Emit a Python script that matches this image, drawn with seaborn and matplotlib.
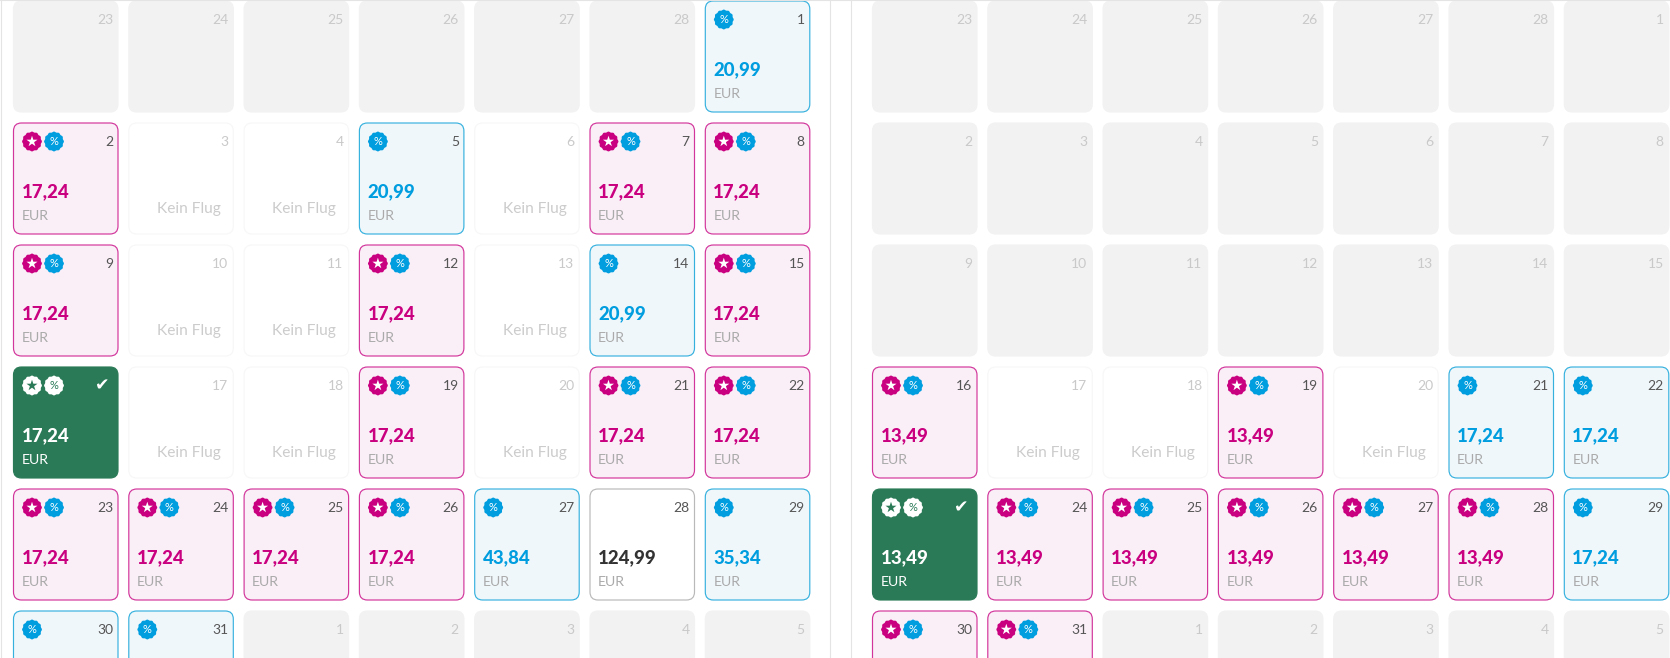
import matplotlib
matplotlib.use("Agg")
import matplotlib.pyplot as plt
import numpy as np
import pandas as pd
import seaborn as sns
from matplotlib.lines import Line2D
from matplotlib.patches import FancyBboxPatch
from matplotlib.path import Path

# o = outside month, n = kein flug, p = pink, b = blue, w = plain, s = selected
left_days = [23, 24, 25, 26, 27, 28, 1,
             2, 3, 4, 5, 6, 7, 8,
             9, 10, 11, 12, 13, 14, 15,
             16, 17, 18, 19, 20, 21, 22,
             23, 24, 25, 26, 27, 28, 29,
             30, 31, 1, 2, 3, 4, 5]
left_kinds = list("oooooob"
                  "pnnbnpp"
                  "pnnpnbp"
                  "snnpnpp"
                  "ppppbwb"
                  "bbooooo")
left_prices = [None, None, None, None, None, None, 20.99,
               17.24, None, None, 20.99, None, 17.24, 17.24,
               17.24, None, None, 17.24, None, 20.99, 17.24,
               17.24, None, None, 17.24, None, 17.24, 17.24,
               17.24, 17.24, 17.24, 17.24, 43.84, 124.99, 35.34,
               None, None, None, None, None, None, None]

right_days = [23, 24, 25, 26, 27, 28, 1,
              2, 3, 4, 5, 6, 7, 8,
              9, 10, 11, 12, 13, 14, 15,
              16, 17, 18, 19, 20, 21, 22,
              23, 24, 25, 26, 27, 28, 29,
              30, 31, 1, 2, 3, 4, 5]
right_kinds = list("ooooooo"
                   "ooooooo"
                   "ooooooo"
                   "pnnpnbb"
                   "spppppb"
                   "ppooooo")
right_prices = [None] * 21 + [13.49, None, None, 13.49, None, 17.24, 17.24,
                              13.49, 13.49, 13.49, 13.49, 13.49, 13.49, 17.24,
                              None, None, None, None, None, None, None]

W, H = 1670, 658
PITCH_X, PITCH_Y = 115.3, 122.0
CELL_W, CELL_H = 104.5, 111.0
MARGIN = 5

PINK = "#c9007f"
BLUE = "#009ddf"
GREEN = "#2a7a57"

fills = {"o": "#f2f2f2", "n": "#ffffff", "p": "#faeef7", "b": "#f0f7fb", "w": "#ffffff", "s": GREEN}
edges = {"o": "#f2f2f2", "n": "#f7f7f7", "p": "#d2359b", "b": "#36b1de", "w": "#b9b9b9", "s": GREEN}
price_cols = {"p": PINK, "b": BLUE, "w": "#333333", "s": "#ffffff"}
day_cols = {"o": "#c9c9c9", "n": "#c9c9c9", "p": "#555555", "b": "#555555", "w": "#555555"}

sns.set_theme(style="white")
plt.rcParams["font.family"] = ["Lato", "DejaVu Sans"]

# gezackter rand der badges
theta = np.linspace(0, 2 * np.pi, 97)
radius = 1 + 0.04 * np.cos(12 * theta)
scallop = Path(np.column_stack([radius * np.cos(theta), radius * np.sin(theta)]), closed=True)


def px(n):
    return n / PITCH_X


def py(n):
    return n / PITCH_Y


def draw_panel(ax, days, kinds, prices):
    badges = []
    stars = []
    for i, (day, kind, price) in enumerate(zip(days, kinds, prices)):
        row, col = divmod(i, 7)
        ax.add_patch(FancyBboxPatch((col, row), px(CELL_W), py(CELL_H),
                                    boxstyle=f"round,pad=0,rounding_size={px(8)}",
                                    mutation_aspect=PITCH_X / PITCH_Y,
                                    fc=fills[kind], ec=edges[kind], lw=0.85))
        if kind == "s":
            ax.text(col + px(89), row + py(18), "\u2714", color="white", fontsize=12.5,
                    ha="center", va="center", family="DejaVu Sans")
        else:
            ax.text(col + px(CELL_W - 5), row + py(19), str(day), color=day_cols[kind], fontsize=10,
                    ha="right", va="center")
        if kind == "n":
            ax.text(col + px(CELL_W - 12.5), row + py(86), "Kein Flug", color="#cccccc", fontsize=11.2,
                    ha="right", va="center")
        if price is not None:
            ax.text(col + px(8), row + py(69), f"{price:.2f}".replace(".", ","), color=price_cols[kind],
                    fontsize=13.4, fontweight=900, ha="left", va="center")
            ax.text(col + px(8), row + py(93), "EUR", color="white" if kind == "s" else "#aaaaaa",
                    fontsize=10.2, ha="left", va="center")
        # badges oben links
        pct_x = col + px(18.5)
        if kind in "ps":
            badges.append((col + px(18.5), row + py(18.5), "sel" if kind == "s" else "star"))
            stars.append((col + px(18.5), row + py(18.5), "sel" if kind == "s" else "star"))
            pct_x = col + px(40.5)
        if kind in "pbs":
            badges.append((pct_x, row + py(18.5), "sel" if kind == "s" else "pct"))
            ax.text(pct_x, row + py(18.5), "%", color=GREEN if kind == "s" else "white", fontsize=8,
                    ha="center", va="center", zorder=5)

    df = pd.DataFrame(badges, columns=["x", "y", "kind"])
    sns.scatterplot(data=df, x="x", y="y", hue="kind", ax=ax, marker=scallop, s=205, linewidth=0,
                    palette={"star": PINK, "pct": BLUE, "sel": "#ffffff"}, legend=False, zorder=3)
    df = pd.DataFrame(stars, columns=["x", "y", "kind"])
    sns.scatterplot(data=df, x="x", y="y", hue="kind", ax=ax, marker="*", s=70, linewidth=0,
                    palette={"star": "#ffffff", "sel": GREEN}, legend=False, zorder=4)

    ax.set_xlim(-px(MARGIN), 7)
    ax.set_ylim((H - 1) / PITCH_Y, -1 / PITCH_Y)
    ax.axis("off")


fig = plt.figure(figsize=(W / 100, H / 100), dpi=100, facecolor="white")
panel_w = 7 * PITCH_X + MARGIN
ax_left = fig.add_axes([(13.5 - MARGIN) / W, 0, panel_w / W, 1])
ax_right = fig.add_axes([(872.5 - MARGIN) / W, 0, panel_w / W, 1])
draw_panel(ax_left, left_days, left_kinds, left_prices)
draw_panel(ax_right, right_days, right_kinds, right_prices)

# trennlinien
for x in [1, 830, 851]:
    fig.add_artist(Line2D([x / W, x / W], [0, 1], color="#e4e4e4", lw=0.8))
fig.add_artist(Line2D([0, 1], [0.9995, 0.9995], color="#e4e4e4", lw=0.8))

fig.savefig("out.png", dpi=100)
